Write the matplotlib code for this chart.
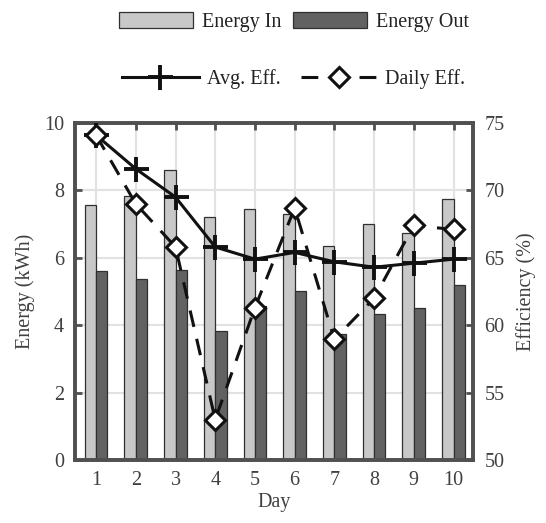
import matplotlib
matplotlib.use("Agg")
import matplotlib.pyplot as plt
import numpy as np

# Daily energy and efficiency data
days = [1, 2, 3, 4, 5, 6, 7, 8, 9, 10]
energy_in = [7.57, 7.83, 8.60, 7.20, 7.46, 7.30, 6.35, 7.00, 6.73, 7.74]
energy_out = [5.60, 5.38, 5.65, 3.82, 4.56, 5.00, 3.74, 4.33, 4.51, 5.18]
avg_eff = [74.1, 71.6, 69.5, 65.8, 64.9, 65.4, 64.7, 64.3, 64.6, 64.9]
daily_eff = [74.1, 69.0, 65.8, 53.0, 61.3, 68.7, 58.95, 62.0, 67.4, 67.1]

plt.rcParams["font.family"] = ["Liberation Serif", "DejaVu Serif"]

spine_c = "#505050"
text_c = "#404040"
fs = 14.5

fig = plt.figure(figsize=(5.46, 5.23), dpi=100)
ax = fig.add_axes([0.1374, 0.1205, 0.7296, 0.6443])

x = np.array(days, dtype=float)
w = 0.285
b_in = ax.bar(x - w / 2, energy_in, width=w, color="#c8c8c8",
              edgecolor="#303030", linewidth=0.9, label="Energy In", zorder=2)
b_out = ax.bar(x + w / 2, energy_out, width=w, color="#626262",
               edgecolor="#303030", linewidth=0.9, label="Energy Out", zorder=2)

ax.set_xlim(0.47, 10.5)
ax.set_ylim(0, 10)
ax.set_xticks(days)
ax.set_yticks([0, 2, 4, 6, 8, 10])
ax.grid(True, color="#e2e2e2", linewidth=1.5)
ax.set_axisbelow(True)
ax.tick_params(axis="both", direction="in", length=5, width=2,
               color=spine_c, labelcolor=text_c, labelsize=fs,
               top=True, pad=8)
ax.set_xlabel("Day", fontsize=fs, color=text_c, labelpad=2)
ax.set_ylabel("Energy (kWh)", fontsize=fs, color=text_c, labelpad=6)

ax2 = ax.twinx()
ax2.set_ylim(50, 75)
ax2.set_yticks([50, 55, 60, 65, 70, 75])
ax2.tick_params(axis="y", direction="in", length=5, width=2,
                color=spine_c, labelcolor=text_c, labelsize=fs, pad=8)
ax2.set_ylabel("Efficiency (%)", fontsize=fs, color=text_c, labelpad=8)

l_avg, = ax2.plot(days, avg_eff, color="#111111", linewidth=2.2,
                  marker="+", markersize=18, markeredgewidth=2.8,
                  label="Avg. Eff.", zorder=4)
l_day, = ax2.plot(days, daily_eff, color="#111111", linewidth=2.2,
                  linestyle=(0, (5.5, 4)), marker="D", markersize=10,
                  markerfacecolor="white", markeredgecolor="#111111",
                  markeredgewidth=2.2, label="Daily Eff.", zorder=5)

for a in (ax, ax2):
    for s in a.spines.values():
        s.set_color(spine_c)
        s.set_linewidth(2.6)

leg1 = fig.legend(handles=[b_in, b_out], loc="center",
                  bbox_to_anchor=(0.538, 1 - 22 / 523), ncol=2,
                  frameon=False, fontsize=fs, handlelength=3.7,
                  handleheight=0.85, handletextpad=0.4, columnspacing=0.6)
leg2 = fig.legend(handles=[l_avg, l_day], loc="center",
                  bbox_to_anchor=(0.538, 1 - 79 / 523), ncol=2,
                  frameon=False, fontsize=fs, handlelength=3.8,
                  handletextpad=0.4, columnspacing=1.0)
for lg in (leg1, leg2):
    for t in lg.get_texts():
        t.set_color("#222222")

fig.savefig("out.png", dpi=100)
